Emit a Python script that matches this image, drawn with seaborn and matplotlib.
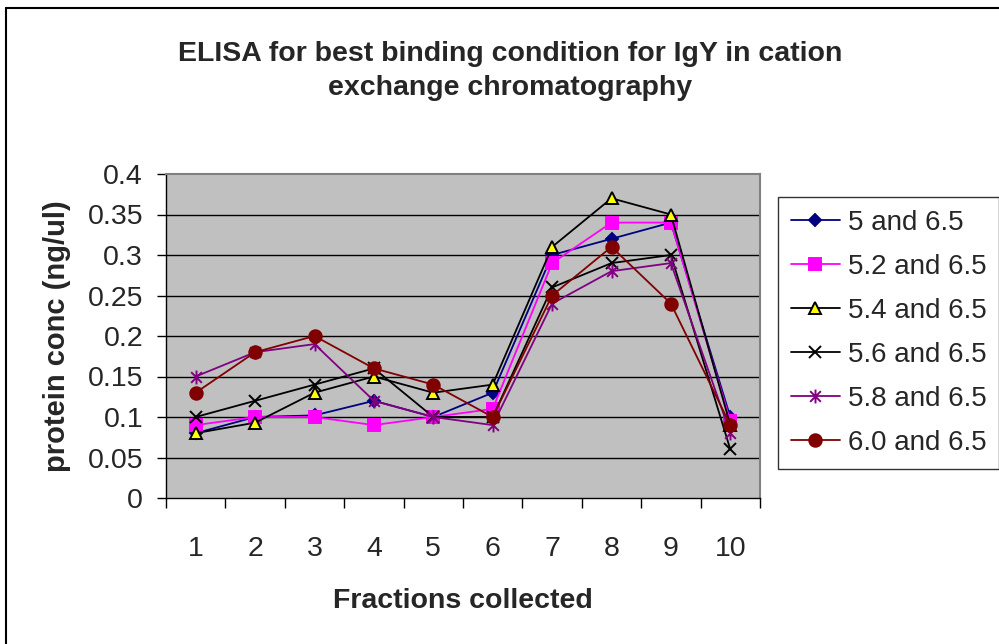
import matplotlib
matplotlib.use("Agg")
import matplotlib.pyplot as plt
import seaborn as sns
import numpy as np
import pandas as pd
from matplotlib.path import Path
from matplotlib.lines import Line2D

fractions = [1, 2, 3, 4, 5, 6, 7, 8, 9, 10]
s_50 = [0.08, 0.10, 0.102, 0.12, 0.10, 0.13, 0.30, 0.32, 0.34, 0.10]
s_52 = [0.09, 0.10, 0.10, 0.09, 0.10, 0.11, 0.29, 0.34, 0.34, 0.095]
s_54 = [0.08, 0.093, 0.13, 0.15, 0.13, 0.14, 0.31, 0.37, 0.35, 0.09]
s_56 = [0.10, 0.12, 0.14, 0.16, 0.10, 0.10, 0.26, 0.29, 0.30, 0.06]
s_58 = [0.15, 0.18, 0.19, 0.12, 0.10, 0.09, 0.24, 0.28, 0.29, 0.08]
s_60 = [0.13, 0.18, 0.20, 0.16, 0.14, 0.10, 0.25, 0.31, 0.24, 0.09]
labels = ["5 and 6.5", "5.2 and 6.5", "5.4 and 6.5", "5.6 and 6.5", "5.8 and 6.5", "6.0 and 6.5"]
yticks = [0, 0.05, 0.1, 0.15, 0.2, 0.25, 0.3, 0.35, 0.4]
ytick_labels = ["0", "0.05", "0.1", "0.15", "0.2", "0.25", "0.3", "0.35", "0.4"]

sns.set_style("white")
plt.rcParams['font.family'] = ['Liberation Sans', 'DejaVu Sans']

star = Path([(-1, -1), (1, 1), (-1, 1), (1, -1), (0, -1.3), (0, 1.3)],
            [Path.MOVETO, Path.LINETO, Path.MOVETO, Path.LINETO, Path.MOVETO, Path.LINETO])

styles = [
    dict(color="#000080", marker="D", mfc="#000080", mec="#000080", ms=6.5),
    dict(color="#FF00FF", marker="s", mfc="#FF00FF", mec="#FF00FF", ms=8.5),
    dict(color="#000000", marker="^", mfc="#FFFF00", mec="#000000", ms=8.5),
    dict(color="#000000", marker="x", mfc="none", mec="#000000", ms=9),
    dict(color="#800080", marker=star, mfc="none", mec="#800080", ms=10),
    dict(color="#800000", marker="o", mfc="#800000", mec="#800000", ms=9),
]
series = [s_50, s_52, s_54, s_56, s_58, s_60]

fig = plt.figure(figsize=(9.99, 6.44), dpi=100)
ax = fig.add_axes([166/999, 1-498/644, (760-166)/999, (498-174)/644])
ax.set_facecolor("#C0C0C0")

for vals, lab, st in zip(series, labels, styles):
    df = pd.DataFrame({"x": fractions, "y": vals})
    sns.lineplot(data=df, x="x", y="y", ax=ax, color=st["color"], marker=st["marker"],
                 markerfacecolor=st["mfc"], markeredgecolor=st["mec"], markersize=st["ms"],
                 markeredgewidth=1.4, linewidth=1.3, label=lab)

ax.set_xlim(0.5, 10.5)
ax.set_ylim(0, 0.4)
ax.set_yticks(yticks)
ax.set_yticklabels(ytick_labels, fontsize=20.5)
ax.set_xticks(fractions)
ax.set_xticklabels([str(f) for f in fractions], fontsize=20.5)
ax.set_xticks(np.arange(0.5, 11, 1), minor=True)
ax.tick_params(axis='x', which='major', length=0, pad=27)
ax.tick_params(axis='x', which='minor', length=7, width=1, color='black', direction='out', bottom=True)
ax.tick_params(axis='y', which='major', length=6.5, width=1, color='black', direction='out', left=True, pad=10)
for yv in yticks[1:-1]:
    ax.axhline(yv, color='black', linewidth=1, zorder=0.5)
for s in ['top', 'right']:
    ax.spines[s].set_color('#808080')
    ax.spines[s].set_linewidth(1.5)
for s in ['left', 'bottom']:
    ax.spines[s].set_color('black')
    ax.spines[s].set_linewidth(1)

ax.set_xlabel("Fractions collected", fontsize=20.5, fontweight='bold', labelpad=19)
ax.set_ylabel("protein conc (ng/ul)", fontsize=21, fontweight='bold', labelpad=12)

fig.text(510/999, 1-71/644, "ELISA for best binding condition for IgY in cation\nexchange chromatography",
         ha='center', va='center', fontsize=20.5, fontweight='bold', linespacing=1.4)

leg = ax.legend(loc='upper left', bbox_to_anchor=(778/999, 1-197/644), bbox_transform=fig.transFigure,
                borderaxespad=0, fontsize=20, frameon=True, fancybox=False, framealpha=1,
                edgecolor='#333333', labelspacing=0.65, handlelength=1.76, handletextpad=0.29,
                borderpad=0.46)
leg.get_frame().set_linewidth(1)

fig.add_artist(Line2D([6/999, 6/999], [0, 1-8/644], transform=fig.transFigure, color='black', linewidth=1.5))
fig.add_artist(Line2D([6/999, 1], [1-8/644, 1-8/644], transform=fig.transFigure, color='black', linewidth=1.5))

fig.savefig("out.png", dpi=100)
